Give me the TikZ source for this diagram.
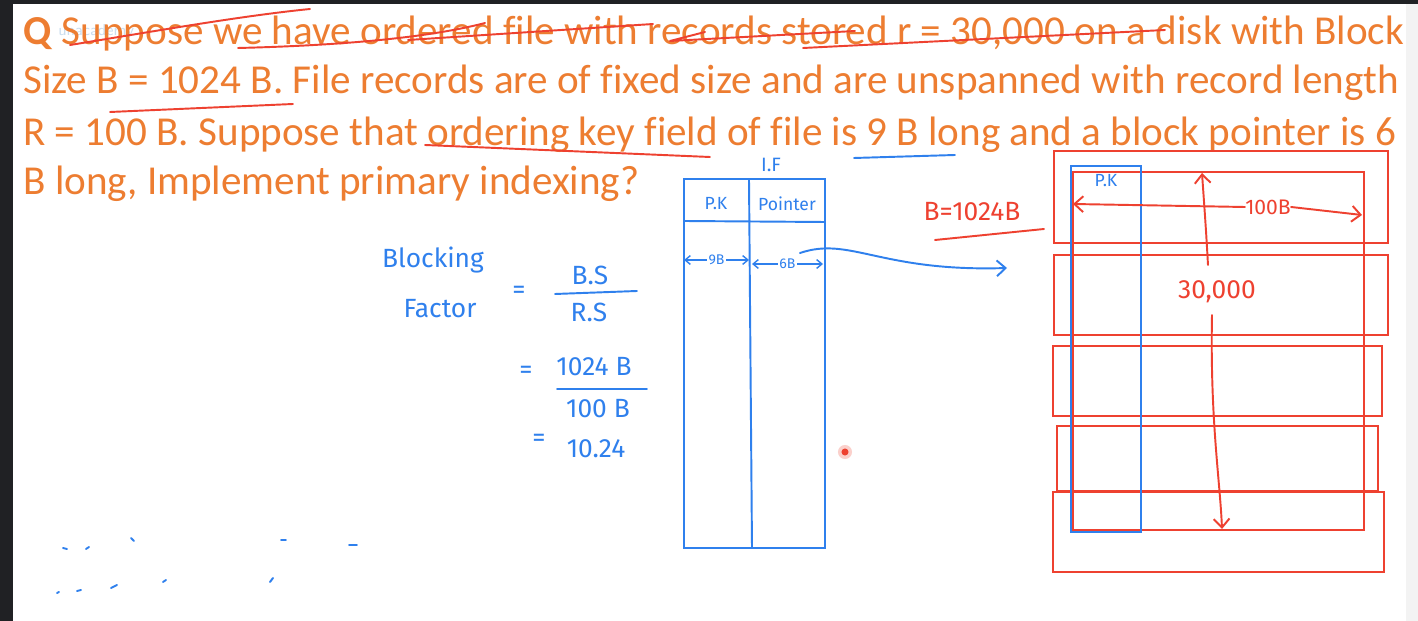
\documentclass[tikz,border=0pt]{standalone}
\usepackage{fontspec}
\setmainfont{Carlito}[Ligatures=NoCommon]
\newfontfamily\hand{Fira Sans}
\usetikzlibrary{arrows.meta}
\definecolor{slideorange}{HTML}{ED7D31}
\definecolor{penred}{HTML}{EE4130}
\definecolor{penblue}{HTML}{2F80ED}
\definecolor{darkbar}{HTML}{202124}
\definecolor{lightbar}{HTML}{F3F3F3}
\definecolor{logoblue}{HTML}{CBDDEE}

\begin{document}
\begin{tikzpicture}[x=0.02cm, y=-0.02cm,
    slide/.style={anchor=base west, inner sep=0pt, text=slideorange,
      font=\fontsize{23.4}{27}\selectfont},
    ink/.style={inner sep=0pt, text=penblue, font=\hand\fontsize{15}{17}\selectfont},
    smallink/.style={ink, font=\hand\fontsize{10}{12}\selectfont},
    redink/.style={ink, text=penred},
    bluepen/.style={draw=penblue, line width=1.1pt, line cap=round},
    redpen/.style={draw=penred, line width=1.1pt, line cap=round, line join=round},
    blk/.style={draw=penred, line width=1.2pt},
    barb/.style={-{Straight Barb[length=5pt,width=9pt]}},
    dbarb/.style={{Straight Barb[length=3pt,width=5pt]}-{Straight Barb[length=3pt,width=5pt]}}
  ]
  % screen frame
  \fill[white] (0,0) rectangle (1418,621);
  \fill[darkbar] (0,0) rectangle (13,621);
  \fill[darkbar] (0,0) rectangle (1418,4);
  \fill[lightbar] (1406,4) rectangle (1418,621);
  \useasboundingbox (0,0) rectangle (1418,621);

  % question
  \node[anchor=west, inner sep=0pt, text=logoblue, font=\sffamily\fontsize{9}{10}\selectfont] (logo) at (58,32) {unacademy};
  \node[slide] (q1) at (23,45) {\textbf{Q} Suppose we have ordered file with records stored r = 30,000 on a disk with Block};
  \node[slide] (q2) at (23,94) {Size B = 1024 B. File records are of fixed size and are unspanned with record length};
  \node[slide] (q3) at (23,146) {R = 100 B. Suppose that ordering key field of file is 9 B long and a block pointer is 6};
  \node[slide] (q4) at (23,195) {B long, Implement primary indexing?};

  % strokes over the question
  \draw[redpen] (70,45) .. controls (150,32) and (240,16) .. (310,9);
  \draw[redpen] (238,48) .. controls (320,46) and (420,40) .. (485,23);
  \draw[redpen] (408,40) -- (653,24);
  \draw[redpen] (705,32) -- (670,41) -- (855,31);
  \draw[redpen] (803,48) -- (1165,30);
  \draw[redpen] (110,112) -- (293,104);
  \draw[redpen] (425,145) -- (710,157);
  \draw[bluepen] (854,158) -- (955,155);

  % blocking factor
  \node[ink] (bl) at (433,260) {Blocking};
  \node[ink] (fa) at (440,309) {Factor};
  \node[ink] (eq1) at (519,292) {=};
  \node[ink] (bs) at (590,275) {B.S};
  \node[ink] (rs) at (589,312) {R.S};
  \draw[bluepen] (555,294) -- (637,291);
  \node[ink] (eq2) at (526,372) {=};
  \node[ink] (kb) at (594,367) {1024 B};
  \node[ink] (hb) at (598,409) {100 B};
  \draw[bluepen] (557,389) -- (647,389);
  \node[ink] (eq3) at (539,440) {=};
  \node[ink] (res) at (596,449) {10.24};

  % index file
  \node[ink, font=\hand\fontsize{11}{12}\selectfont] (if) at (771,165) {I.F};
  \draw[bluepen] (684,179) rectangle (825,548);
  \draw[bluepen] (684,221) -- (825,222);
  \draw[bluepen] (749,179) -- (752,548);
  \node[smallink] (pk) at (716,204) {P.K};
  \node[smallink] (ptr) at (787,204) {Pointer};
  \coordinate (k-l) at (684,260);
  \coordinate (k-r) at (749,260);
  \coordinate (p-l) at (752,264);
  \coordinate (p-r) at (823,264);
  \draw[bluepen, line width=0.8pt, dbarb] (k-l) -- node[smallink, fill=white, inner sep=1pt, font=\hand\fontsize{8}{9}\selectfont] (nine) {9B} (k-r);
  \draw[bluepen, line width=0.8pt, dbarb] (p-l) -- node[smallink, fill=white, inner sep=1pt, font=\hand\fontsize{8}{9}\selectfont] (six) {6B} (p-r);
  \coordinate (ptr-out) at (800,253);
  \coordinate (blk-in) at (1007,268);
  \draw[bluepen, barb] (ptr-out) .. controls (850,236) and (880,272) .. (blk-in);

  % data file blocks
  \node[redink] (bsz) at (972,212) {B=1024B};
  \draw[redpen] (935,240) -- (1044,229);
  \draw[blk] (1054,151) rectangle (1388,243);
  \draw[blk] (1054,255) rectangle (1388,335);
  \draw[blk] (1053,346) rectangle (1382,416);
  \draw[blk] (1057,426) rectangle (1378,491);
  \draw[blk] (1053,492) rectangle (1384,572);
  \draw[blk] (1073,172) rectangle (1364,530);
  \draw[bluepen, line width=1.3pt] (1071,166) rectangle (1141,532);
  \node[smallink] (pk2) at (1106,181) {P.K};

  % record length and record count
  \node[redink, font=\hand\fontsize{12}{14}\selectfont] (len) at (1268,207) {100B};
  \coordinate (len-l) at (1073,204);
  \coordinate (len-r) at (1362,215);
  \draw[redpen, barb] (len.west) -- (len-l);
  \draw[redpen, barb] (len.east) -- (len-r);
  \node[redink] (cnt) at (1217,292) {30,000};
  \coordinate (cnt-u) at (1208,265);
  \coordinate (cnt-t) at (1202,173);
  \coordinate (cnt-d) at (1212,315);
  \coordinate (cnt-b) at (1222,529);
  \draw[redpen, barb] (cnt-u) .. controls (1206,230) .. (cnt-t);
  \draw[redpen, barb] (cnt-d) .. controls (1210,420) and (1220,480) .. (cnt-b);

  % pointer dot
  \fill[penred!25] (845,452) circle[radius=4pt];
  \fill[penred] (845,452) circle[radius=2pt];

  % stray marks
  \foreach \ax/\ay/\bx/\by in {63/548/67/549, 86/549/89/547, 131/538/134/541,
      281/540/286/540, 349/545/357/545, 57/593/59/592, 77/591/81/590,
      111/588/117/585, 163/582/166/580, 270/582/273/578}
    \draw[bluepen] (\ax,\ay) -- (\bx,\by);
\end{tikzpicture}
\end{document}
